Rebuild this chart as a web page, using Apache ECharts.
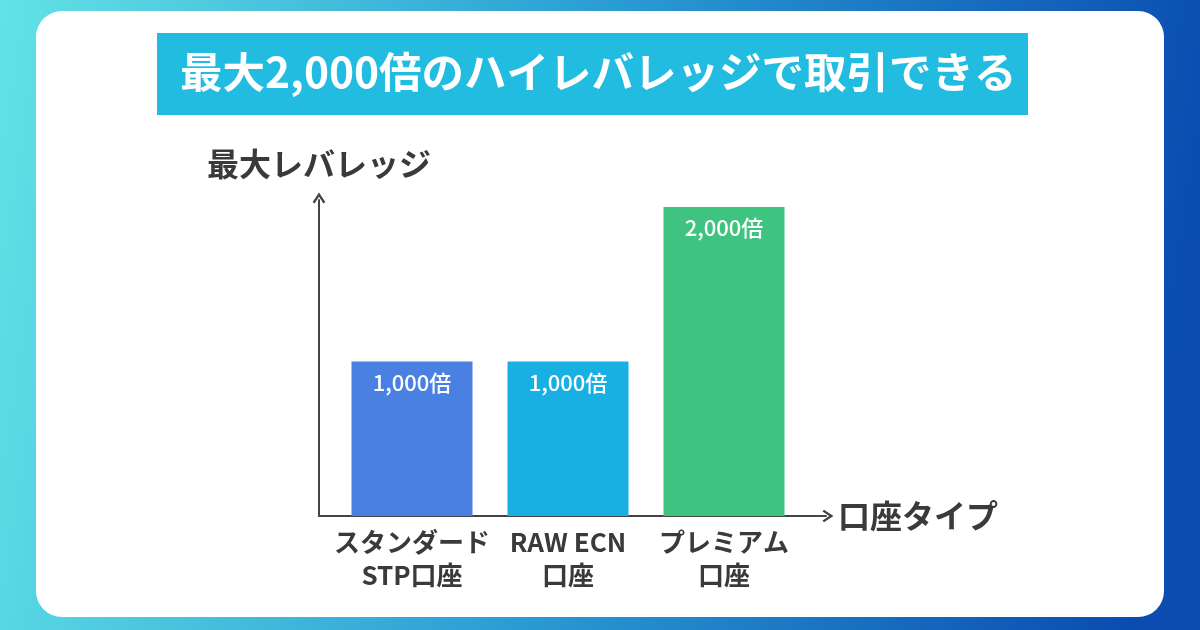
<!DOCTYPE html>
<html><head><meta charset="utf-8">
<script src="https://cdn.jsdelivr.net/npm/echarts@6/dist/echarts.min.js"></script>
<style>html,body{margin:0;padding:0;}#c{width:1200px;height:630px;}</style>
</head><body><div id="c"></div>
<script>
const titleText = '最大2,000倍のハイレバレッジで取引できる';
const categories = ['スタンダード\nSTP口座', 'RAW ECN\n口座', 'プレミアム\n口座'];
const leverage = [1000, 1000, 2000];
const barLabels = ['1,000倍', '1,000倍', '2,000倍'];
const barColors = ['#4a80e2', '#18b0e2', '#3ec480'];
const yAxisName = '最大レバレッジ';
const xAxisName = '口座タイプ';

const FONT = '"Noto Sans CJK JP", "Noto Sans", sans-serif';
const chevron = 'path://M0,9 L6,0 L12,9 L10.2,10.4 L6,4 L1.8,10.4 Z';

const chart = echarts.init(document.getElementById('c'));
chart.setOption({
  backgroundColor: {
    type: 'linear', x: 0, y: 0, x2: 1, y2: 0.3,
    colorStops: [{offset: 0, color: '#62e2e6'}, {offset: 0.5, color: '#2a9cd4'}, {offset: 1, color: '#0a4cb0'}]
  },
  textStyle: {fontFamily: FONT},
  graphic: [
    {type: 'rect', z: -10, shape: {x: 36, y: 11, width: 1128, height: 606, r: 26}, style: {fill: '#ffffff'}},
    {type: 'rect', z: -9, shape: {x: 157, y: 33, width: 871, height: 82}, style: {fill: '#22bce1'}},
    {type: 'text', z: -8, left: 180, top: 51, style: {text: titleText, fill: '#ffffff', font: 'bold 42.5px ' + FONT}}
  ],
  grid: [
    {left: 334, width: 468, top: 207, bottom: 114},
    {left: 319, width: 507, top: 200, bottom: 114}
  ],
  xAxis: [
    {
      type: 'category', gridIndex: 0, data: categories,
      axisLine: {show: false}, axisTick: {show: false},
      axisLabel: {interval: 0, margin: 10, color: '#3a3a3a', fontSize: 26, fontWeight: 'bold', lineHeight: 33, fontFamily: FONT}
    },
    {
      type: 'value', gridIndex: 1, min: 0, max: 1,
      axisLabel: {show: false}, axisTick: {show: false}, splitLine: {show: false},
      axisLine: {show: true, lineStyle: {color: '#444', width: 2}, symbol: ['none', chevron], symbolSize: [17, 11], symbolOffset: [0, 2]},
      name: xAxisName, nameLocation: 'end', nameGap: 12,
      nameTextStyle: {color: '#3a3a3a', fontSize: 32, fontWeight: 'bold', fontFamily: FONT}
    }
  ],
  yAxis: [
    {
      type: 'value', gridIndex: 0, min: 0, max: 2000,
      axisLabel: {show: false}, axisTick: {show: false}, splitLine: {show: false}, axisLine: {show: false}
    },
    {
      type: 'value', gridIndex: 1, min: 0, max: 1,
      axisLabel: {show: false}, axisTick: {show: false}, splitLine: {show: false},
      axisLine: {show: true, lineStyle: {color: '#444', width: 2}, symbol: ['none', chevron], symbolSize: [17, 11], symbolOffset: [0, 2]},
      name: yAxisName, nameLocation: 'end', nameGap: 20,
      nameTextStyle: {color: '#3a3a3a', fontSize: 32, fontWeight: 'bold', fontFamily: FONT}
    }
  ],
  series: [{
    type: 'bar', xAxisIndex: 0, yAxisIndex: 0, barWidth: 121,
    data: leverage.map((v, i) => ({value: v, itemStyle: {color: barColors[i]}})),
    label: {
      show: true, position: 'insideTop', distance: 10,
      formatter: p => barLabels[p.dataIndex],
      color: '#ffffff', fontSize: 22, fontWeight: 500, fontFamily: FONT
    }
  }]
});
</script></body></html>
